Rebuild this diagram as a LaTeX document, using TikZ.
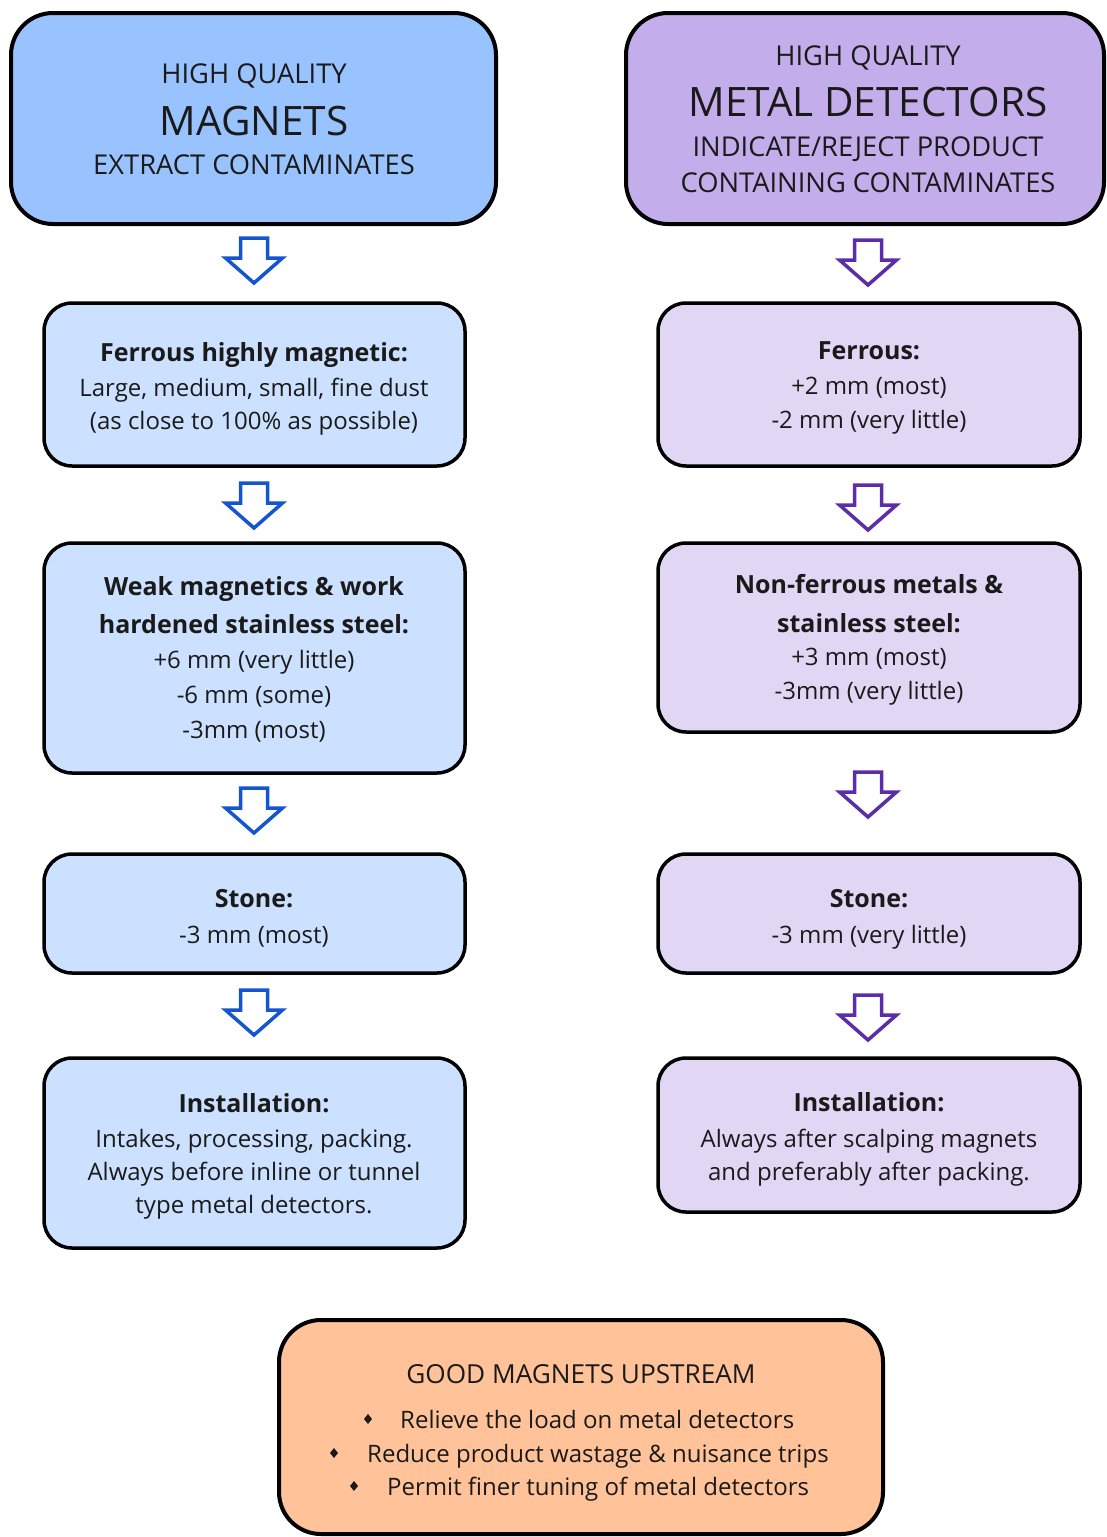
\documentclass[tikz,border=0pt]{standalone}
\usepackage{fontspec}
\setmainfont{Open Sans}
\definecolor{topblue}{HTML}{99C3FF}
\definecolor{toppurple}{HTML}{C3AEEB}
\definecolor{lblue}{HTML}{CCE1FF}
\definecolor{lpurple}{HTML}{E1D7F5}
\definecolor{peach}{HTML}{FFC299}
\definecolor{arrblue}{HTML}{1556D0}
\definecolor{arrpurple}{HTML}{5B2DA8}
\definecolor{txtc}{HTML}{1A1A1A}
\tikzset{
  outerbox/.style={draw=black, line width=4pt, rounded corners=42pt},
  innerbox/.style={draw=black, line width=3.5pt, rounded corners=28pt},
  txt/.style={anchor=base, inner sep=0pt, text=txtc, font=\fontsize{24}{28}\selectfont},
  bfx/.style={anchor=base, inner sep=0pt, text=txtc, font=\bfseries\fontsize{25}{29}\selectfont},
  caps/.style={anchor=base, inner sep=0pt, text=txtc, font=\fontsize{27.3}{31}\selectfont},
  bigcaps/.style={anchor=base, inner sep=0pt, text=txtc, font=\fontsize{40.5}{44}\selectfont},
  downarrow/.pic={\draw[line width=3.5pt, fill=white, miter limit=10]
     (-13.5,0) -- (13.5,0) -- (13.5,20) -- (28.5,20) -- (0,45) -- (-28.5,20) -- (-13.5,20) -- cycle;}
}
\begin{document}
\begin{tikzpicture}[x=1pt,y=-1pt]
\useasboundingbox (0,0) rectangle (1107,1537);
\fill[white] (0,0) rectangle (1107,1537);

% top boxes
\draw[outerbox, fill=topblue] (11,13) rectangle (496,224);
\draw[outerbox, fill=toppurple] (626,13) rectangle (1104,224);

\node[caps] (tl1) at (254,83) {HIGH QUALITY};
\node[bigcaps] (tl2) at (254,135) {MAGNETS};
\node[caps] (tl3) at (254,174) {EXTRACT CONTAMINATES};

\node[caps] (tr1) at (868,65) {HIGH QUALITY};
\node[bigcaps] (tr2) at (868,116) {METAL DETECTORS};
\node[caps] (tr3) at (868,156) {INDICATE/REJECT PRODUCT};
\node[caps] (tr4) at (868,192) {CONTAINING CONTAMINATES};

% left column boxes
\draw[innerbox, fill=lblue] (44,303) rectangle (465,466);
\draw[innerbox, fill=lblue] (44,543) rectangle (465,773);
\draw[innerbox, fill=lblue] (44,854) rectangle (465,973);
\draw[innerbox, fill=lblue] (44,1058) rectangle (465,1248);

% right column boxes
\draw[innerbox, fill=lpurple] (658,303) rectangle (1080,466);
\draw[innerbox, fill=lpurple] (658,543) rectangle (1080,732);
\draw[innerbox, fill=lpurple] (658,854) rectangle (1080,973);
\draw[innerbox, fill=lpurple] (658,1058) rectangle (1080,1212);

% bottom box
\draw[outerbox, fill=peach] (279,1320) rectangle (883,1534);

% arrows left
\begin{scope}[draw=arrblue]
\pic at (254,238) {downarrow};
\pic at (254,483) {downarrow};
\pic at (254,788) {downarrow};
\pic at (254,990) {downarrow};
\end{scope}
\begin{scope}[draw=arrpurple]
\pic at (868,240) {downarrow};
\pic at (868,485) {downarrow};
\pic at (868,772) {downarrow};
\pic at (868,995) {downarrow};
\end{scope}

% left texts
\node[bfx] (l1a) at (254,361) {Ferrous highly magnetic:};
\node[txt] (l1b) at (254,396) {Large, medium, small, fine dust};
\node[txt] (l1c) at (254,429) {(as close to 100\% as possible)};

\node[bfx] (l2a) at (254,595) {Weak magnetics \& work};
\node[bfx] (l2b) at (254,633) {hardened stainless steel:};
\node[txt] (l2c) at (254,668) {+6 mm (very little)};
\node[txt] (l2d) at (254,703) {-6 mm (some)};
\node[txt] (l2e) at (254,738) {-3mm (most)};

\node[bfx] (l3a) at (254,907) {Stone:};
\node[txt] (l3b) at (254,943) {-3 mm (most)};

\node[bfx] (l4a) at (254,1112) {Installation:};
\node[txt] (l4b) at (254,1147) {Intakes, processing, packing.};
\node[txt] (l4c) at (254,1180) {Always before inline or tunnel};
\node[txt] (l4d) at (254,1213) {type metal detectors.};

% right texts
\node[bfx] (r1a) at (869,359) {Ferrous:};
\node[txt] (r1b) at (869,394) {+2 mm (most)};
\node[txt] (r1c) at (869,428) {-2 mm (very little)};

\node[bfx] (r2a) at (869,593) {Non-ferrous metals \&};
\node[bfx] (r2b) at (869,632) {stainless steel:};
\node[txt] (r2c) at (869,665) {+3 mm (most)};
\node[txt] (r2d) at (869,699) {-3mm (very little)};

\node[bfx] (r3a) at (869,907) {Stone:};
\node[txt] (r3b) at (869,943) {-3 mm (very little)};

\node[bfx] (r4a) at (869,1111) {Installation:};
\node[txt] (r4b) at (869,1147) {Always after scalping magnets};
\node[txt] (r4c) at (869,1180) {and preferably after packing.};

% bottom texts
\node[anchor=base, inner sep=0pt, text=txtc, font=\fontsize{26.2}{30}\selectfont] (b0) at (581,1383) {GOOD MAGNETS UPSTREAM};
\node[txt, anchor=base west] (b1) at (400,1428) {Relieve the load on metal detectors};
\node[txt, anchor=base west] (b2) at (367,1462) {Reduce product wastage \& nuisance trips};
\node[txt, anchor=base west] (b3) at (387,1495) {Permit finer tuning of metal detectors};
\fill[txtc] (368,1414) -- (372,1419) -- (368,1424) -- (364,1419) -- cycle;
\fill[txtc] (334,1448) -- (338,1453) -- (334,1458) -- (330,1453) -- cycle;
\fill[txtc] (354,1481) -- (358,1486) -- (354,1491) -- (350,1486) -- cycle;
\end{tikzpicture}
\end{document}
